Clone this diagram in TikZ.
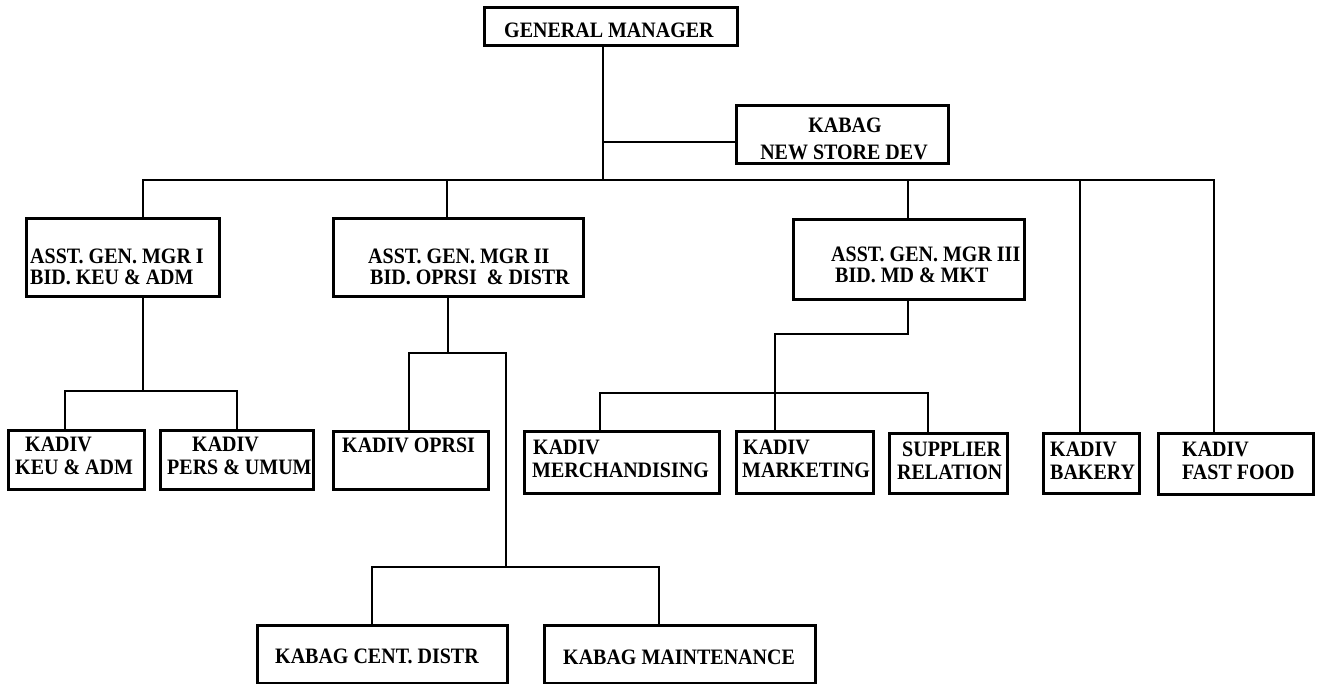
\documentclass[tikz,border=0pt]{standalone}
\usepackage{fontspec}
\usepackage{graphicx}
\setmainfont{Liberation Serif}
% slightly tall lettering for the box titles
\newcommand\tall[1]{\scalebox{1}[1.1]{#1}}
\begin{document}
\begin{tikzpicture}[x=1pt,y=-1pt,
  box/.style={draw=black, line width=2.6pt, anchor=north west, inner sep=0pt},
  lbl/.style={anchor=base west, inner sep=0pt, font=\fontsize{20}{22}\selectfont\bfseries},
  lblc/.style={lbl, anchor=base},
  wire/.style={draw=black, line width=2.6pt, line cap=rect}]

% page frame
\fill[white] (0,0) rectangle (1318,684);
\useasboundingbox (0,0) rectangle (1318,684);

% boxes: name, left, top, width, height
\newcommand\orgbox[5]{\node[box, minimum width=#4pt, minimum height=#5pt] (#1) at (#2,#3) {};}
\orgbox{gm}{483}{6}{253}{38}
\orgbox{nsd}{735}{104}{212}{58}
\orgbox{agm1}{25}{217}{193}{78}
\orgbox{agm2}{332}{217}{250}{78}
\orgbox{agm3}{792}{218}{231}{80}
\orgbox{keu}{7}{429}{136}{59}
\orgbox{pers}{159}{429}{153}{59}
\orgbox{oprsi}{332}{430}{155}{58}
\orgbox{merch}{523}{430}{195}{62}
\orgbox{mkt}{735}{430}{137}{62}
\orgbox{sup}{888}{432}{118}{60}
\orgbox{bak}{1042}{432}{96}{60}
\orgbox{ff}{1157}{432}{155}{61}
\orgbox{cent}{256}{624}{250}{58}
\orgbox{mnt}{543}{624}{271}{58}

% texts
\node[lbl] (gm-a) at (504,38) {\tall{GENERAL MANAGER}};
\node[lblc] (nsd-a) at (845,133) {\tall{KABAG}};
\node[lblc] (nsd-b) at (844,160) {\tall{NEW STORE DEV}};
\node[lbl] (agm1-a) at (30,264) {\tall{ASST. GEN. MGR I}};
\node[lbl] (agm1-b) at (30,285) {\tall{BID. KEU \& ADM}};
\node[lbl] (agm2-a) at (368,264) {\tall{ASST. GEN. MGR II}};
\node[lbl] (agm2-b) at (370,285) {\tall{BID. OPRSI\ \ \& DISTR}};
\node[lbl] (agm3-a) at (831,262) {\tall{ASST. GEN. MGR III}};
\node[lbl] (agm3-b) at (835,283) {\tall{BID. MD \& MKT}};
\node[lbl] (keu-a) at (25,452) {\tall{KADIV}};
\node[lbl] (keu-b) at (15,475) {\tall{KEU \& ADM}};
\node[lbl] (pers-a) at (192,452) {\tall{KADIV}};
\node[lbl] (pers-b) at (167,475) {\tall{PERS \& UMUM}};
\node[lbl] (oprsi-a) at (342,453) {\tall{KADIV OPRSI}};
\node[lbl] (merch-a) at (533,455) {\tall{KADIV}};
\node[lbl] (merch-b) at (532,478) {\tall{MERCHANDISING}};
\node[lbl] (mkt-a) at (743,455) {\tall{KADIV}};
\node[lbl] (mkt-b) at (742,478) {\tall{MARKETING}};
\node[lbl] (sup-a) at (902,457) {\tall{SUPPLIER}};
\node[lbl] (sup-b) at (897,480) {\tall{RELATION}};
\node[lbl] (bak-a) at (1050,457) {\tall{KADIV}};
\node[lbl] (bak-b) at (1050,480) {\tall{BAKERY}};
\node[lbl] (ff-a) at (1182,457) {\tall{KADIV}};
\node[lbl] (ff-b) at (1182,480) {\tall{FAST FOOD}};
\node[lbl] (cent-a) at (275,663) {\tall{KABAG CENT. DISTR}};
\node[lbl] (mnt-a) at (563,664) {\tall{KABAG MAINTENANCE}};

% junction points
\coordinate (j-top) at (603,180);
\coordinate (j-nsd) at (603,142);
\coordinate (bus-l) at (143,180);
\coordinate (bus-r) at (1214,180);
\coordinate (b2) at (447,180);
\coordinate (b3) at (908,180);
\coordinate (b4) at (1080,180);
\coordinate (a1) at (143,391);
\coordinate (a1l) at (65,391);
\coordinate (a1r) at (237,391);
\coordinate (a2) at (448,353);
\coordinate (a2l) at (409,353);
\coordinate (a2r) at (506,353);
\coordinate (a2b) at (506,567);
\coordinate (a2bl) at (372,567);
\coordinate (a2br) at (659,567);
\coordinate (a3) at (908,334);
\coordinate (a3l) at (775,334);
\coordinate (m-l) at (600,393);
\coordinate (m-r) at (928,393);

% general manager level
\draw[wire] (gm.south -| j-top) -- (j-top);
\draw[wire] (j-nsd) -- (j-nsd -| nsd.west);
\draw[wire] (agm1.north -| bus-l) -- (bus-l) -- (bus-r) -- (ff.north -| bus-r);
\draw[wire] (b2) -- (b2 |- agm2.north);
\draw[wire] (b3) -- (b3 |- agm3.north);
\draw[wire] (b4) -- (b4 |- bak.north);

% finance and administration
\draw[wire] (agm1.south -| a1) -- (a1);
\draw[wire] (keu.north -| a1l) -- (a1l) -- (a1r) -- (pers.north -| a1r);

% operations and distribution
\draw[wire] (agm2.south -| a2) -- (a2);
\draw[wire] (oprsi.north -| a2l) -- (a2l) -- (a2r) -- (a2b);
\draw[wire] (cent.north -| a2bl) -- (a2bl) -- (a2br) -- (mnt.north -| a2br);

% merchandising and marketing
\draw[wire] (agm3.south -| a3) -- (a3) -- (a3l) -- (mkt.north -| a3l);
\draw[wire] (merch.north -| m-l) -- (m-l) -- (m-r) -- (sup.north -| m-r);
\end{tikzpicture}
\end{document}
